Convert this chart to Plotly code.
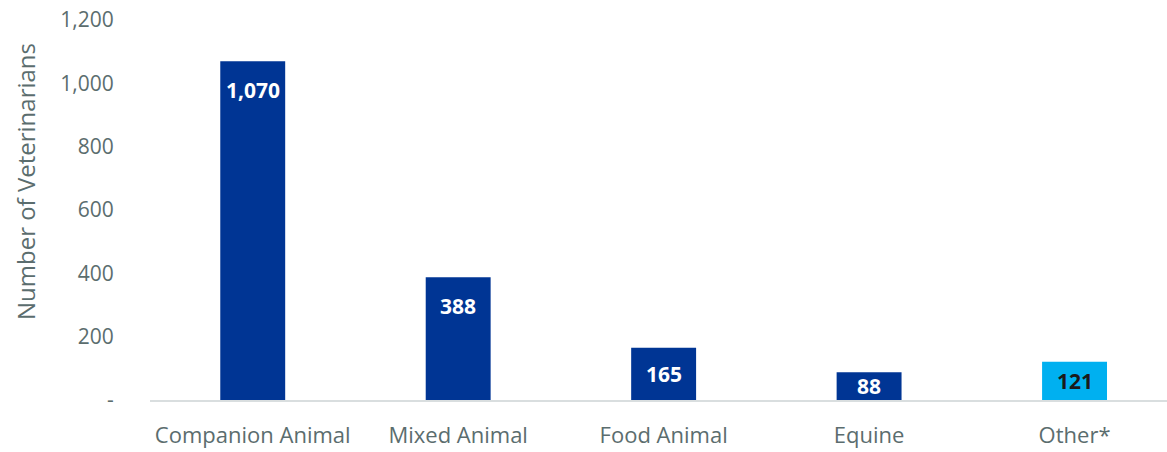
import plotly.graph_objects as go

categories = ["Companion Animal", "Mixed Animal", "Food Animal", "Equine", "Other*"]
values = [1070, 388, 165, 88, 121]
bar_colors = ["#003594", "#003594", "#003594", "#003594", "#00B0F0"]
text_colors = ["#FFFFFF", "#FFFFFF", "#FFFFFF", "#FFFFFF", "#1A1A1A"]
y_tickvals = [0, 200, 400, 600, 800, 1000, 1200]
y_ticktext = ["-", "200", "400", "600", "800", "1,000", "1,200"]
y_title = "Number of Veterinarians"

labels = [f"{v:,}" for v in values]

Y_MAX = 1200
PLOT_H = 452 - 20 - 52
px_per_unit = PLOT_H / Y_MAX
label_pad_px = 29

fig = go.Figure(
    go.Bar(
        x=categories,
        y=values,
        marker=dict(color=bar_colors, line=dict(width=0)),
        width=0.316,
        hoverinfo="x+y",
    )
)

for cat, v, lab, tc in zip(categories, values, labels, text_colors):
    bar_px = v * px_per_unit
    shift = min(label_pad_px, bar_px / 2)
    fig.add_annotation(
        x=cat, y=v, yshift=-shift, text=lab, showarrow=False,
        xanchor="center", yanchor="middle",
        font=dict(family="Open Sans", size=21, color=tc, weight="bold"),
    )

axis_color = "#5b6d6e"

fig.add_annotation(
    xref="paper", yref="paper", x=-0.123, y=0.576, text=y_title,
    showarrow=False, textangle=-90, xanchor="center", yanchor="middle",
    font=dict(family="Open Sans", size=24, color=axis_color),
)

fig.update_layout(
    width=1167,
    height=452,
    margin=dict(l=150, r=0, t=20, b=52),
    paper_bgcolor="white",
    plot_bgcolor="white",
    font=dict(family="Open Sans", size=20, color=axis_color),
    showlegend=False,
    xaxis=dict(
        range=[-0.5, 4.45],
        showgrid=False,
        showline=True,
        linecolor="#d9dedf",
        linewidth=2,
        ticks="outside",
        ticklen=15,
        tickcolor="rgba(0,0,0,0)",
        tickfont=dict(size=22, color=axis_color),
    ),
    yaxis=dict(
        range=[0, Y_MAX],
        tickvals=y_tickvals,
        ticktext=y_ticktext,
        showgrid=False,
        zeroline=False,
        showline=False,
        ticks="outside",
        ticklen=31,
        tickcolor="rgba(0,0,0,0)",
        tickfont=dict(size=21, color=axis_color),
    ),
)

fig.write_html("out.html")
